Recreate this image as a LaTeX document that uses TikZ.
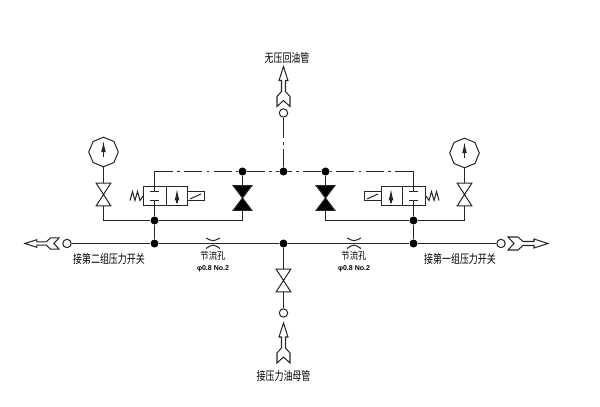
\documentclass[tikz,border=0pt]{standalone}
\usepackage{fontspec}
\usepackage{tikz}
\usetikzlibrary{arrows.meta,shapes.geometric}
\newfontfamily\cjk{Noto Sans CJK SC}
\setsansfont{Liberation Sans}

\begin{document}
\begin{tikzpicture}[
    x=0.025cm,
    y=-0.025cm,
    pipe/.style={
        line width=0.72pt,
        color=black!85
    },
    pilot/.style={
        pipe,
        dash pattern=on 13pt off 3pt on 2pt off 3pt
    },
    dot/.style={
        circle,
        fill=black,
        inner sep=0pt,
        minimum size=0.2cm
    },
    port/.style={
        circle,
        draw,
        pipe,
        fill=white,
        inner sep=0pt,
        minimum size=0.21cm
    },
    valve/.style={
        inner sep=0pt,
        minimum width=0.35cm,
        minimum height=0.55cm,
        append after command={
            \pgfextra{
                \draw[pipe] (\tikzlastnode.north west) -- (\tikzlastnode.north east)
                    -- (\tikzlastnode.south west) -- (\tikzlastnode.south east) -- cycle;
            }
        }
    },
    blackvalve/.style={
        inner sep=0pt,
        minimum width=0.45cm,
        minimum height=0.6cm,
        append after command={
            \pgfextra{
                \draw[pipe,fill=black] (\tikzlastnode.north west) -- (\tikzlastnode.north east)
                    -- (\tikzlastnode.south west) -- (\tikzlastnode.south east) -- cycle;
            }
        }
    },
    gauge/.style={
        regular polygon,
        regular polygon sides=8,
        shape border rotate=22.5,
        draw,
        pipe,
        inner sep=0pt,
        minimum size=0.74cm
    },
    cell/.style={
        rectangle,
        draw,
        pipe,
        inner sep=0pt,
        minimum height=0.475cm
    },
    coil/.style={
        rectangle,
        draw,
        pipe,
        inner sep=0pt,
        minimum width=0.425cm,
        minimum height=0.225cm
    },
    needle/.style={
        pipe,
        -{Latex[length=8pt,width=3.4pt]}
    },
    label/.style={
        font=\cjk\fontsize{8.5}{10}\selectfont,
        xscale=0.75,
        transform shape,
        inner sep=0pt
    },
    smalllabel/.style={
        font=\cjk\fontsize{7}{8}\selectfont,
        xscale=0.85,
        transform shape,
        inner sep=0pt
    },
    sizelabel/.style={
        font=\sffamily\bfseries\fontsize{5}{6}\selectfont,
        inner sep=0pt
    },
    outlet/.pic={
        \draw[pipe] (0,0) -- (-4.5,14) -- (-2,14) -- (-2,25) -- (-6.5,30) -- (-6.5,40)
            -- (0,34) -- (6.5,40) -- (6.5,30) -- (2,25) -- (2,14) -- (4.5,14) -- cycle;
    }
]
\useasboundingbox (0,0) rectangle (600,407);

% Junctions
\node[dot] (mainL) at (154.5,243.5) {};
\node[dot] (mainC) at (283.5,243.5) {};
\node[dot] (mainR) at (413.5,243.5) {};
\node[dot] (lowL) at (154.5,220.5) {};
\node[dot] (lowR) at (413.5,220.5) {};
\node[dot] (topL) at (242.5,171.5) {};
\node[dot] (topC) at (283.5,171.5) {};
\node[dot] (topR) at (325.5,171.5) {};
\coordinate (turnL) at (154.5,171.5);
\coordinate (turnR) at (413.5,171.5);
\coordinate (cornerGL) at (103.5,220.5);
\coordinate (cornerBL) at (242.5,220.5);
\coordinate (cornerBR) at (325.5,220.5);
\coordinate (cornerGR) at (464.5,220.5);

% Ports
\node[port] (portL) at (67,243.5) {};
\node[port] (portR) at (501,243.5) {};
\node[port] (portT) at (283.5,113) {};
\node[port] (portB) at (283.5,313) {};
\coordinate (pilotT) at (283.5,129);

% Valves
\node[valve] (valveGL) at (103.5,194.5) {};
\node[valve] (valveGR) at (464.5,194.5) {};
\node[valve] (valveB) at (283.5,280.5) {};
\node[blackvalve] (valveL) at (242.5,198) {};
\node[blackvalve] (valveR) at (325.5,198) {};

% Gauges
\node[gauge] (gaugeL) at (103.5,152) {};
\node[gauge] (gaugeR) at (464.5,153) {};
\draw[needle] (gaugeL.center) ++(0,5) -- ++(0,-16);
\draw[needle] (gaugeR.center) ++(0,5) -- ++(0,-16);

% Left solenoid valve
\node[cell, minimum width=0.575cm] (cellAL) at (155,196) {};
\node[cell, minimum width=0.525cm] (cellBL) at (177,196) {};
\node[coil] (coilL) at (196,196) {};
\draw[pipe] (coilL.south west) ++(3,-2) -- ++(11,-5);
\draw[needle] (cellBL.south) ++(0,-3) -- ++(0,-14);
\draw[pipe] (154.5,186.5) -- (154.5,191.5);
\draw[pipe] (150,191.5) -- (159,191.5);
\draw[pipe] (150,200.5) -- (159,200.5);
\draw[pipe] (154.5,200.5) -- (154.5,205.5);
\draw[pipe] (cellAL.west) -- ++(-3,4.5) -- ++(-2.5,-9) -- ++(-2.5,9) -- ++(-2.5,-9) -- ++(-2.5,9);

% Right solenoid valve
\node[cell, minimum width=0.575cm] (cellAR) at (414,196) {};
\node[cell, minimum width=0.525cm] (cellBR) at (392,196) {};
\node[coil] (coilR) at (373,196) {};
\draw[pipe] (coilR.south west) ++(3,-2) -- ++(11,-5);
\draw[needle] (cellBR.south) ++(-1,-3) -- ++(0,-14);
\draw[pipe] (413.5,186.5) -- (413.5,191.5);
\draw[pipe] (409,191.5) -- (418,191.5);
\draw[pipe] (409,200.5) -- (418,200.5);
\draw[pipe] (413.5,200.5) -- (413.5,205.5);
\draw[pipe] (cellAR.east) -- ++(3,4.5) -- ++(2.5,-9) -- ++(2.5,9) -- ++(2.5,-9) -- ++(2.5,9);

% Pressure lines
\draw[pipe] (portL) -- (mainL);
\draw[pipe] (mainL) -- (mainC);
\draw[pipe] (mainC) -- (mainR);
\draw[pipe] (mainR) -- (portR);
\draw[pipe] (mainC) -- (valveB.north);
\draw[pipe] (valveB.south) -- (portB);
\draw[pipe] (mainL) -- (lowL);
\draw[pipe] (mainR) -- (lowR);
\draw[pipe] (lowL) -- (154.5,205.5);
\draw[pipe] (lowR) -- (413.5,205.5);
\draw[pipe] (gaugeL) -- (valveGL.north);
\draw[pipe] (gaugeR) -- (valveGR.north);
\draw[pipe] (valveGL.south) -- (cornerGL) -- (lowL);
\draw[pipe] (lowL) -- (cornerBL) -- (valveL.south);
\draw[pipe] (valveGR.south) -- (cornerGR) -- (lowR);
\draw[pipe] (lowR) -- (cornerBR) -- (valveR.south);
\draw[pipe] (topL) -- (valveL.north);
\draw[pipe] (topR) -- (valveR.north);

% Pilot lines
\draw[pipe] (154.5,186.5) -- (turnL);
\draw[pipe] (413.5,186.5) -- (turnR);
\draw[pilot] (turnL) -- (topL);
\draw[pilot] (topL) -- (topC);
\draw[pilot] (turnR) -- (topR);
\draw[pilot] (topR) -- (topC);
\draw[pipe] (portT) -- (pilotT);
\draw[pilot] (topC) -- (pilotT);

% Orifices
\draw[pipe] (206,238) .. controls (213,241.5) .. (220,238);
\draw[pipe] (206,248.5) .. controls (213,244) .. (220,248.5);
\draw[pipe] (347,238) .. controls (354,241.5) .. (361,238);
\draw[pipe] (347,248.5) .. controls (354,244) .. (361,248.5);

% Outlets
\pic at (283.5,66.5) {outlet};
\pic at (283.5,323) {outlet};
\pic[rotate=90, scale=0.85] at (25,243.5) {outlet};
\pic[rotate=-90] at (548,243.5) {outlet};

% Labels
\node[label] (returnT) at (287,58) {无压回油管};
\node[label] (supplyB) at (283.5,376) {接压力油母管};
\node[label] (switchL) at (109,259) {接第二组压力开关};
\node[label] (switchR) at (460,259) {接第一组压力开关};
\node[smalllabel] (orificeL) at (213,256) {节流孔};
\node[smalllabel] (orificeR) at (354,256) {节流孔};
\node[sizelabel] (sizeL) at (213,268.5) {φ0.8 No.2};
\node[sizelabel] (sizeR) at (354,268.5) {φ0.8 No.2};

\end{tikzpicture}
\end{document}
